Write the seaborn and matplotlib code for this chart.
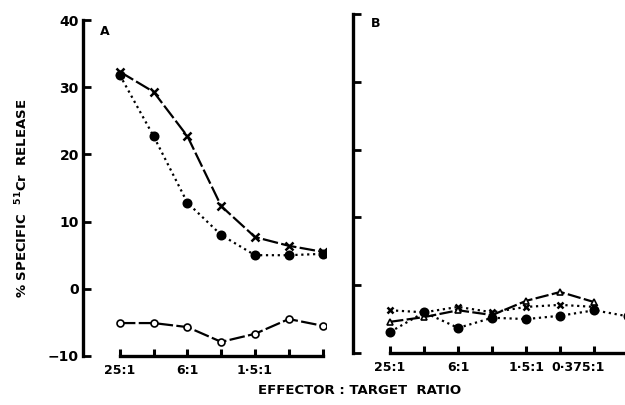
import numpy as np
import pandas as pd
import matplotlib
matplotlib.use("Agg")
import matplotlib.pyplot as plt
import matplotlib.transforms as mtransforms
import seaborn as sns

# valores
ratios_a = ['25:1', '', '6:1', '', '1·5:1', '', '']
ratios_b = ['25:1', '', '6:1', '', '1·5:1', '', '0·375:1']

a_cruz = [32.3, 29.3, 22.7, 12.3, 7.7, 6.4, 5.5]
a_lleno = [31.8, 22.7, 12.8, 8.0, 5.0, 5.0, 5.2]
a_vacio = [-5.1, -5.1, -5.7, -7.9, -6.7, -4.5, -5.5]

b_cruz = [-3.7, -4.0, -3.2, -4.0, -3.2, -2.9, -3.2]
b_triang = [-5.4, -4.7, -3.7, -4.4, -2.3, -1.0, -2.5]
b_lleno = [-6.9, -4.0, -6.3, -4.8, -5.0, -4.5, -3.7, -4.6]

sns.set_style("ticks")
plt.rcParams['font.family'] = ['DejaVu Sans']
plt.rcParams['font.weight'] = 'bold'
for clave in ['text.color', 'axes.edgecolor', 'axes.labelcolor', 'xtick.color', 'ytick.color']:
    plt.rcParams[clave] = 'black'

fig = plt.figure(figsize=(6.25, 4.05), dpi=100)
ax_a = fig.add_axes([0.1328, 0.121, 0.3888, 0.8296])
ax_b = fig.add_axes([0.5648, 0.1284, 0.4352, 0.837])


def serie(ax, valores, marker, ls, mfc='black', ms=5, mew=1.2):
    df = pd.DataFrame({'x': np.arange(len(valores)), 'y': valores})
    sns.lineplot(data=df, x='x', y='y', ax=ax, color='black', linestyle=ls,
                 linewidth=1.6, marker=marker, markersize=ms,
                 markerfacecolor=mfc, markeredgecolor='black',
                 markeredgewidth=mew, clip_on=True)


serie(ax_a, a_cruz, 'x', (0, (7, 1.5)), ms=6, mew=1.8)
serie(ax_a, a_lleno, 'o', ':', ms=6)
serie(ax_a, a_vacio, 'o', (0, (7, 1.5)), mfc='white', ms=5)

serie(ax_b, b_cruz, 'x', ':', ms=5, mew=1.8)
serie(ax_b, b_triang, '^', (0, (6, 1.5)), mfc='white', ms=5)
serie(ax_b, b_lleno, 'o', ':', ms=6)

for ax, etiquetas, derecha in [(ax_a, ratios_a, 6.1), (ax_b, ratios_b, 6.9)]:
    ax.set_xlim(-1.09, derecha)
    ax.set_ylim(-10, 40)
    ax.set_yticks([-10, 0, 10, 20, 30, 40])
    ax.set_xticks(range(len(etiquetas)))
    ax.set_xticklabels(etiquetas, fontsize=9, fontweight='bold')
    ax.set_xlabel('')
    ax.set_ylabel('')
    ax.patch.set_alpha(0)
    for s in ['top', 'right']:
        ax.spines[s].set_visible(False)
    for s in ['left', 'bottom']:
        ax.spines[s].set_linewidth(2.4)
    ax.tick_params(axis='x', direction='in', length=5, width=2.2, pad=6)
    ax.tick_params(axis='y', direction='in', length=6, width=2.0, pad=3)

ax_a.spines['bottom'].set_bounds(0, 6)
ax_b.spines['bottom'].set_bounds(0, 6.9)
ax_a.set_yticklabels(['\u221210', '0', '10', '20', '30', '40'], fontsize=10, fontweight='bold')
ax_b.set_yticklabels([])

# la etiqueta 0·375:1 esta corrida a la izquierda en el original
lab = ax_b.get_xticklabels()[6]
lab.set_transform(lab.get_transform() + mtransforms.ScaledTranslation(-0.16, 0, fig.dpi_scale_trans))

ax_a.text(0.07, 0.985, 'A', transform=ax_a.transAxes, fontsize=9, fontweight='bold', va='top')
ax_b.text(0.065, 0.99, 'B', transform=ax_b.transAxes, fontsize=9, fontweight='bold', va='top')

fig.text(0.035, 0.51, '% SPECIFIC  $^{51}$Cr  RELEASE', rotation=90,
         ha='center', va='center', fontsize=9.5, fontweight='bold')
fig.text(0.576, 0.035, 'EFFECTOR : TARGET  RATIO', ha='center', va='center',
         fontsize=9.5, fontweight='bold')

fig.savefig('out.png', dpi=100)
